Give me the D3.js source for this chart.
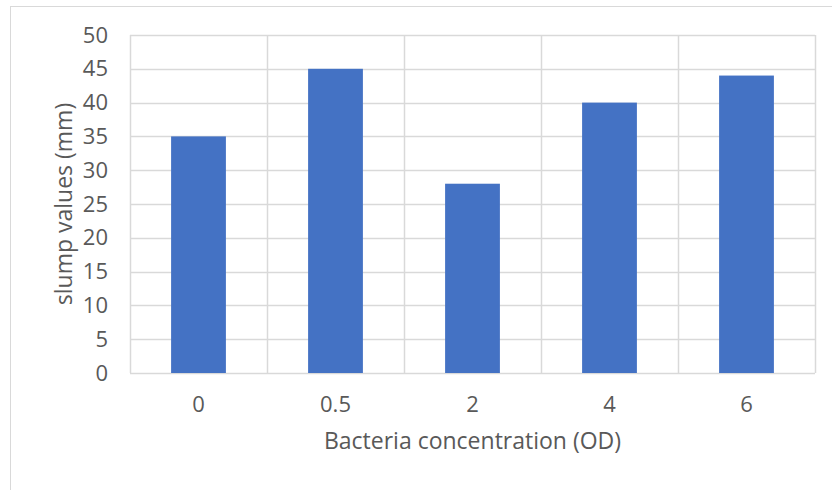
<!DOCTYPE html>
<html>
<head>
<meta charset="utf-8">
<script src="https://cdn.jsdelivr.net/npm/d3@7"></script>
<style>
  body { margin: 0; background: #fff; }
  text { font-family: "Open Sans", sans-serif; fill: #595959; }
</style>
</head>
<body>
<div id="chart"></div>
<script>
// data
var categories = ["0", "0.5", "2", "4", "6"];
var slumpValues = [35, 45, 28, 40, 44];
var yTicks = [0, 5, 10, 15, 20, 25, 30, 35, 40, 45, 50];

var svgWidth = 832;
var svgHeight = 490;

var margin = { top: 35, right: 17, bottom: 117, left: 130 };
var width = svgWidth - margin.left - margin.right;
var height = svgHeight - margin.top - margin.bottom;

var svg = d3.select("#chart")
  .append("svg")
  .attr("width", svgWidth)
  .attr("height", svgHeight);

// outer chart border
svg.append("rect")
  .attr("x", 10.5)
  .attr("y", 6.5)
  .attr("width", 840)
  .attr("height", 500)
  .attr("fill", "none")
  .attr("stroke", "#d9d9d9");

var chartGroup = svg.append("g")
  .attr("transform", `translate(${margin.left}, ${margin.top})`);

var xScale = d3.scaleBand()
  .domain(categories)
  .range([0, width])
  .paddingInner(0.6)
  .paddingOuter(0.3);

var yScale = d3.scaleLinear()
  .domain([0, 50])
  .range([height, 0]);

// horizontal gridlines
chartGroup.append("g")
  .selectAll("line")
  .data(yTicks)
  .enter()
  .append("line")
  .attr("x1", 0)
  .attr("x2", width)
  .attr("y1", d => Math.round(yScale(d)) + 0.5)
  .attr("y2", d => Math.round(yScale(d)) + 0.5)
  .attr("stroke", "#d9d9d9")
  .attr("stroke-width", 1.5);

// vertical gridlines at category boundaries
var step = width / categories.length;
chartGroup.append("g")
  .selectAll("line")
  .data(d3.range(categories.length + 1))
  .enter()
  .append("line")
  .attr("x1", d => Math.round(d * step) + 0.5)
  .attr("x2", d => Math.round(d * step) + 0.5)
  .attr("y1", 0)
  .attr("y2", height)
  .attr("stroke", "#d9d9d9")
  .attr("stroke-width", 1.5);

// bars
chartGroup.selectAll("rect.bar")
  .data(slumpValues)
  .enter()
  .append("rect")
  .attr("class", "bar")
  .attr("x", (d, i) => xScale(categories[i]))
  .attr("width", xScale.bandwidth())
  .attr("y", d => yScale(d))
  .attr("height", d => height - yScale(d))
  .attr("fill", "#4472c4");

// y axis
var leftAxis = d3.axisLeft(yScale).tickValues(yTicks).tickSize(0).tickPadding(22);
var yAxis = chartGroup.append("g").call(leftAxis);
yAxis.select(".domain").remove();
yAxis.selectAll("text")
  .style("font-size", "22px")
  .attr("fill", "#595959");

// x axis
var bottomAxis = d3.axisBottom(xScale).tickSize(0).tickPadding(23);
var xAxis = chartGroup.append("g")
  .attr("transform", `translate(0, ${height})`)
  .call(bottomAxis);
xAxis.select(".domain").remove();
xAxis.selectAll("text")
  .style("font-size", "22px")
  .attr("fill", "#595959");

// axis titles
svg.append("text")
  .attr("x", margin.left + width / 2)
  .attr("y", 449)
  .attr("text-anchor", "middle")
  .style("font-size", "23px")
  .text("Bacteria concentration (OD)");

svg.append("text")
  .attr("transform", `translate(72, ${margin.top + height / 2}) rotate(-90)`)
  .attr("text-anchor", "middle")
  .style("font-size", "23px")
  .text("slump values (mm)");
</script>
</body>
</html>
